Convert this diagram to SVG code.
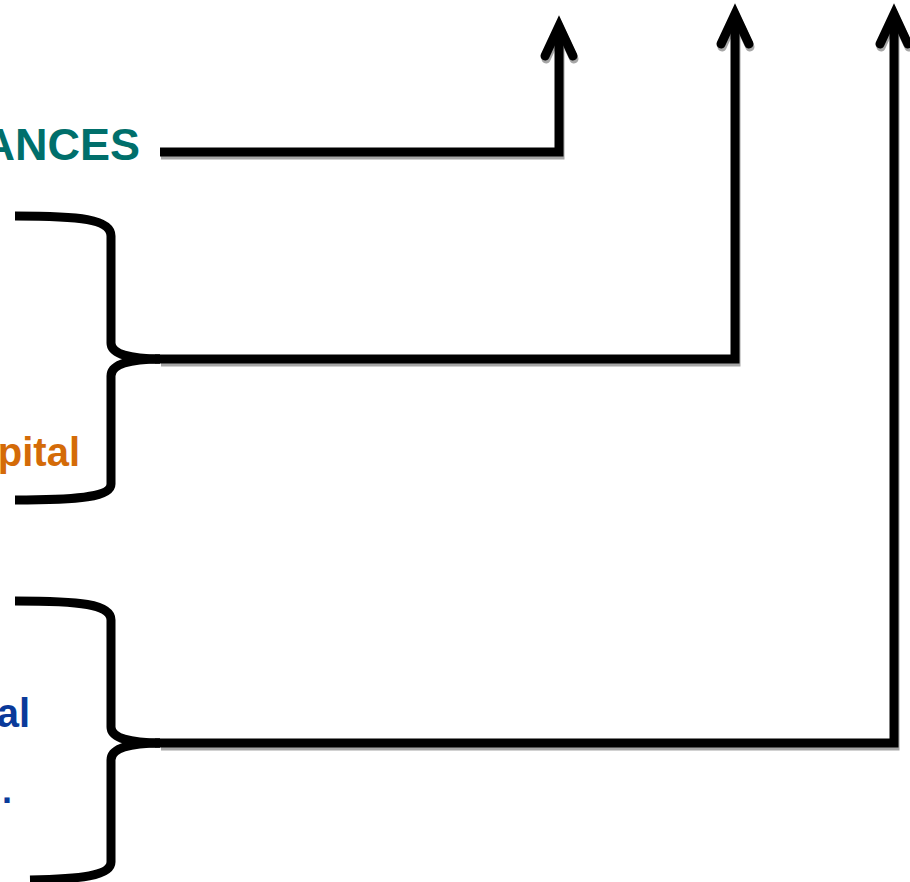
<svg xmlns="http://www.w3.org/2000/svg" width="910" height="882" viewBox="0 0 910 882">
<style>
.t{font-family:"Liberation Sans",Arial,sans-serif;font-weight:bold}
.ln{fill:none;stroke:#000;stroke-width:9;stroke-linejoin:miter}
.sh{fill:none;stroke:#a6a6a6;stroke-width:9;stroke-linejoin:miter}
.br{fill:none;stroke:#000;stroke-width:9}
</style>
<defs>
<marker id="ah" markerUnits="userSpaceOnUse" viewBox="-40 -20 50 40" markerWidth="50" markerHeight="40" refX="0" refY="0" orient="auto" overflow="visible">
<path d="M-30,-14 L0,0 L-30,14" fill="none" stroke="#000" stroke-width="9" stroke-linecap="round" stroke-linejoin="miter"/>
</marker>
<marker id="ahs" markerUnits="userSpaceOnUse" viewBox="-40 -20 50 40" markerWidth="50" markerHeight="40" refX="0" refY="0" orient="auto" overflow="visible">
<path d="M-30,-14 L0,0 L-30,14" fill="none" stroke="#a6a6a6" stroke-width="9" stroke-linecap="round" stroke-linejoin="miter"/>
</marker>
</defs>
<rect width="910" height="882" fill="#fff"/>
<g id="node-finances">
<text class="t" x="140" y="160" font-size="45" fill="#006f6b" text-anchor="end">ANCES</text>
</g>
<g id="node-capital">
<path class="br" d="M15,216 C80,216 111,219 111,236 L111,343 C111,354 130,359 160,359"/>
<path class="br" d="M160,359 C130,359 111,364 111,376 L111,484 C111,497 80,500 15,500"/>
<text class="t" x="80" y="466" font-size="40" fill="#d46b08" text-anchor="end">pital</text>
</g>
<g id="node-bottom">
<path class="br" d="M15,601 C80,601 111,604 111,620 L111,727 C111,738 130,743 160,743"/>
<path class="br" d="M160,743 C130,743 111,748 111,760 L111,862 C111,876 80,879 30,880"/>
<text class="t" x="30" y="727" font-size="40" fill="#0a3a9a" text-anchor="end">al</text>
<text class="t" x="12" y="803" font-size="36" fill="#0a3a9a" text-anchor="end">.</text>
</g>
<g id="connectors">
<g transform="translate(1,3)">
<polyline class="sh" points="160,152 559,152 559,26" marker-end="url(#ahs)"/>
<polyline class="sh" points="160,359 735,359 735,14" marker-end="url(#ahs)"/>
<polyline class="sh" points="160,743 894,743 894,14" marker-end="url(#ahs)"/>
</g>
<polyline class="ln" points="160,152 559,152 559,26" marker-end="url(#ah)"/>
<polyline class="ln" points="155,359 735,359 735,14" marker-end="url(#ah)"/>
<polyline class="ln" points="155,743 894,743 894,14" marker-end="url(#ah)"/>
</g>
</svg>
